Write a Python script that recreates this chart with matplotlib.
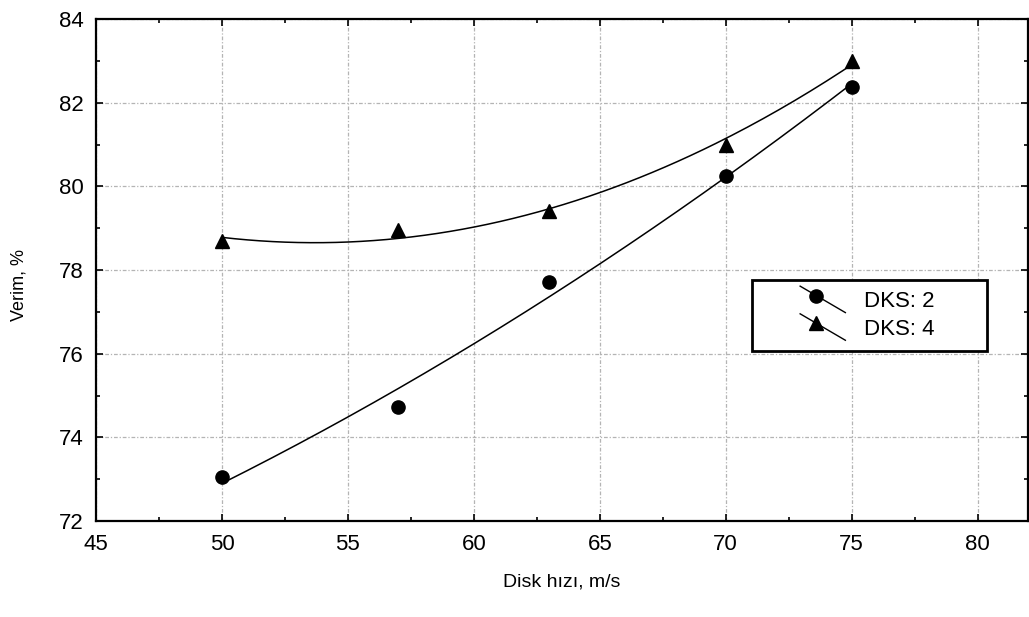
import numpy as np
import matplotlib
matplotlib.use("Agg")
import matplotlib.pyplot as plt
from matplotlib.lines import Line2D
from matplotlib.legend_handler import HandlerBase
from matplotlib.ticker import MultipleLocator

plt.rcParams['font.family'] = ['Liberation Sans', 'DejaVu Sans']

# Disk speed (m/s) and efficiency (%) for two DKS settings
disk_speed = [50, 57, 63, 70, 75]
verim_dks2 = [73.05, 74.72, 77.71, 80.24, 82.38]
verim_dks4 = [78.70, 78.95, 79.40, 81.00, 83.00]
series_labels = ["DKS: 2", "DKS: 4"]
series_markers = ["o", "^"]

x_ticks = [45, 50, 55, 60, 65, 70, 75, 80]
y_ticks = [72, 74, 76, 78, 80, 82, 84]


class DiagonalHandler(HandlerBase):
    """Legend key: a short line running down to the right with the marker on it."""

    def create_artists(self, legend, orig_handle, xdescent, ydescent,
                       width, height, fontsize, trans):
        x0 = -xdescent + width * 0.45
        x1 = -xdescent + width
        y0 = -ydescent + height * 1.35
        y1 = -ydescent - height * 0.35
        line = Line2D([x0, x1], [y0, y1], color="black", lw=1.0,
                      transform=trans)
        f = 0.36
        mark = Line2D([x0 + (x1 - x0) * f], [y0 + (y1 - y0) * f],
                      marker=orig_handle.get_marker(),
                      markersize=orig_handle.get_markersize(),
                      color="black", linestyle="none", transform=trans)
        return [line, mark]


fig = plt.figure(figsize=(10.29, 6.17), dpi=100)
ax = fig.add_axes([96 / 1029, 1 - 521 / 617, (1028 - 96) / 1029, (521 - 19) / 617])

x = np.array(disk_speed, dtype=float)
xs = np.linspace(x.min(), x.max(), 200)
handles = []
for vals, lab, mk in zip([verim_dks2, verim_dks4], series_labels, series_markers):
    y = np.array(vals)
    coef = np.polyfit(x, y, 2)
    ax.plot(xs, np.polyval(coef, xs), color="black", lw=1.1, zorder=3)
    h, = ax.plot(x, y, linestyle="none", marker=mk, markersize=9.5,
                 color="black", zorder=4, label=lab)
    handles.append(h)

ax.set_xlim(45, 82)
ax.set_ylim(72, 84)
ax.set_xticks(x_ticks)
ax.set_yticks(y_ticks)
ax.xaxis.set_minor_locator(MultipleLocator(2.5))
ax.yaxis.set_minor_locator(MultipleLocator(1))
ax.tick_params(which="both", direction="in", top=True, right=True,
               labelsize=16, color="black")
ax.tick_params(which="major", length=5, width=1.2, pad=9)
ax.tick_params(which="minor", length=3, width=1.2)

ax.grid(True, which="major", color="#b4b4b4", lw=0.9,
        linestyle=(0, (3, 1.5, 1, 1.5)))
ax.set_axisbelow(True)
for s in ax.spines.values():
    s.set_linewidth(1.6)
    s.set_color("black")

ax.set_xlabel("Disk hızı, m/s", fontsize=14)
ax.xaxis.set_label_coords(0.5, -0.105)
ax.set_ylabel("Verim, %", fontsize=13)
ax.yaxis.set_label_coords(-0.073, 0.47)

leg = ax.legend(handles=handles, labels=series_labels,
                handler_map={Line2D: DiagonalHandler()},
                loc="upper left", bbox_to_anchor=(0.7039, 0.30, 0.2521, 0.18),
                mode="expand", fontsize=16, frameon=True, fancybox=False,
                handlelength=3.7, handletextpad=0.85, borderpad=0.5,
                labelspacing=0.3, borderaxespad=0)
frame = leg.get_frame()
frame.set_edgecolor("black")
frame.set_linewidth(2.0)
frame.set_facecolor("white")
frame.set_alpha(1)

fig.savefig("out.png", dpi=100)
